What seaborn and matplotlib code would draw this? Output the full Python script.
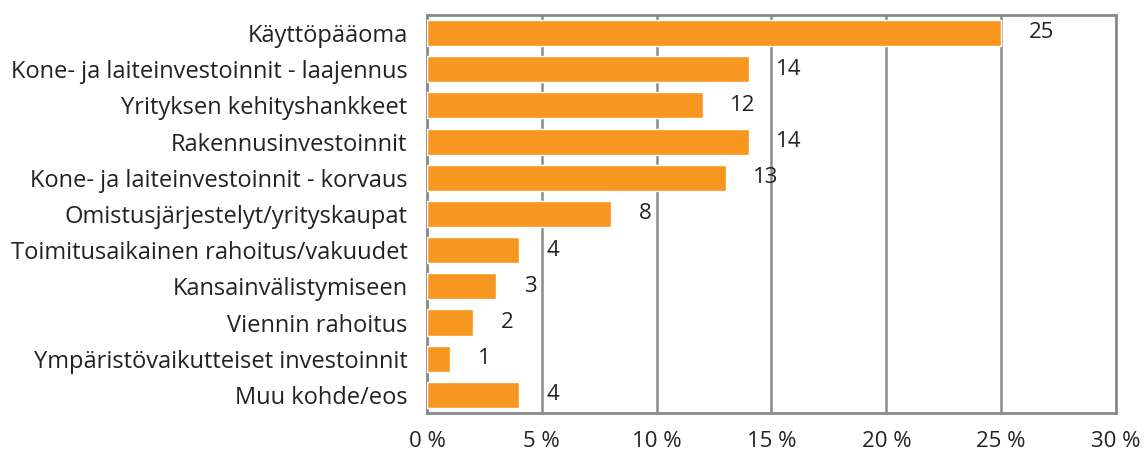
import numpy as np
import pandas as pd
import matplotlib
matplotlib.use("Agg")
import matplotlib.pyplot as plt
import seaborn as sns

categories = [
    "Käyttöpääoma",
    "Kone- ja laiteinvestoinnit - laajennus",
    "Yrityksen kehityshankkeet",
    "Rakennusinvestoinnit",
    "Kone- ja laiteinvestoinnit - korvaus",
    "Omistusjärjestelyt/yrityskaupat",
    "Toimitusaikainen rahoitus/vakuudet",
    "Kansainvälistymiseen",
    "Viennin rahoitus",
    "Ympäristövaikutteiset investoinnit",
    "Muu kohde/eos",
]
values = [25, 14, 12, 14, 13, 8, 4, 3, 2, 1, 4]
xticks = [0, 5, 10, 15, 20, 25, 30]
xtick_labels = ["0 %", "5 %", "10 %", "15 %", "20 %", "25 %", "30 %"]

df = pd.DataFrame({"kohde": categories, "osuus": values})

sns.set_style("white")
plt.rcParams["font.family"] = ["Open Sans", "DejaVu Sans"]

orange = "#F7971F"
grey = "#8a8a8a"

fig = plt.figure(figsize=(11.46, 4.55), dpi=100)
ax = fig.add_axes([0.3726, 0.0923, 0.6012, 0.875])

sns.barplot(data=df, x="osuus", y="kohde", color=orange, width=0.72,
            saturation=1, ax=ax, zorder=3)

ax.set_xlim(0, 30)
ax.set_xticks(xticks)
ax.set_xticklabels(xtick_labels, fontsize=16, color="#222222")
ax.tick_params(axis="x", length=0, pad=13)
ax.tick_params(axis="y", length=0, pad=14, labelsize=17, labelcolor="#222222")
ax.set_xlabel("")
ax.set_ylabel("")

ax.grid(axis="x", color=grey, linewidth=1.8, zorder=0)
for side in ["left", "right", "top", "bottom"]:
    ax.spines[side].set_color(grey)
    ax.spines[side].set_linewidth(2)
    ax.spines[side].set_visible(True)

ax.bar_label(ax.containers[0], labels=[str(v) for v in values],
             padding=20, fontsize=16, color="#222222")

fig.savefig("out.png", dpi=100)
